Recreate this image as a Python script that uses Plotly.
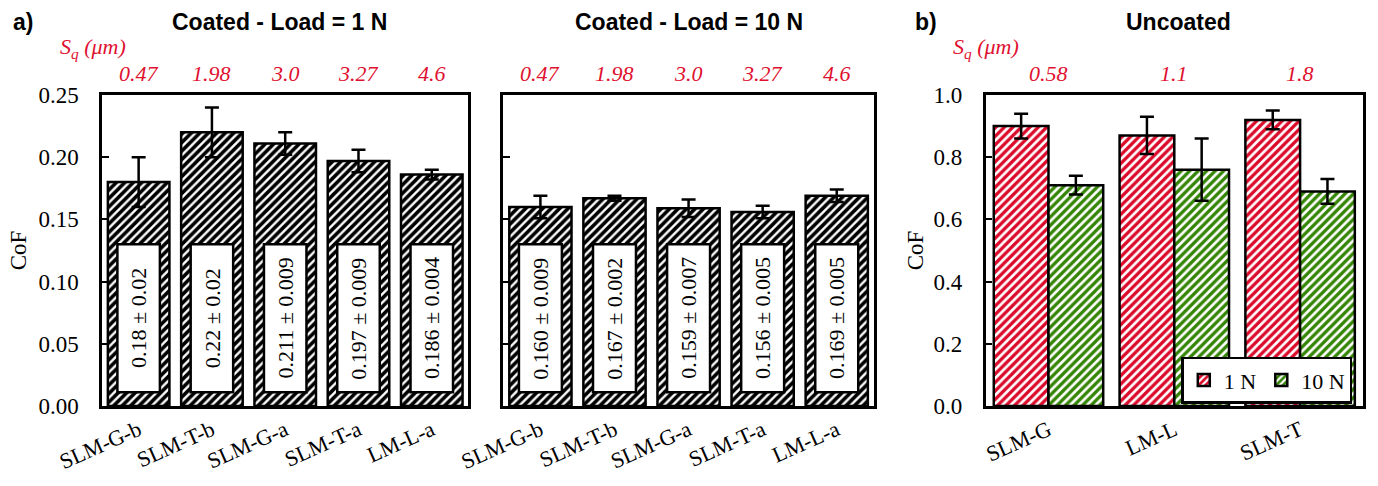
import plotly.graph_objects as go

# ---------------- data ----------------
coated_cats = ["SLM-G-b", "SLM-T-b", "SLM-G-a", "SLM-T-a", "LM-L-a"]
sq_coated = ["0.47", "1.98", "3.0", "3.27", "4.6"]
cof_1N = [0.18, 0.22, 0.211, 0.197, 0.186]
err_1N = [0.02, 0.02, 0.009, 0.009, 0.004]
lbl_1N = ["0.18 ± 0.02", "0.22 ± 0.02", "0.211 ± 0.009", "0.197 ± 0.009", "0.186 ± 0.004"]
cof_10N = [0.160, 0.167, 0.159, 0.156, 0.169]
err_10N = [0.009, 0.002, 0.007, 0.005, 0.005]
lbl_10N = ["0.160 ± 0.009", "0.167 ± 0.002", "0.159 ± 0.007", "0.156 ± 0.005", "0.169 ± 0.005"]

uncoated_cats = ["SLM-G", "LM-L", "SLM-T"]
sq_uncoated = ["0.58", "1.1", "1.8"]
unc_1N = [0.90, 0.87, 0.92]
unc_err_1N = [0.04, 0.06, 0.03]
unc_10N = [0.71, 0.76, 0.69]
unc_err_10N = [0.03, 0.10, 0.04]

# ---------------- styles ----------------
SERIF = "Liberation Serif"
SANS = "Liberation Sans"
RED = "#dc0a2a"
GREEN = "#348504"
SQ_RED = "#e0102f"

W, H = 1378, 486
ML, MR, MT, MB = 102, 13, 95, 75
PW = W - ML - MR
PH = H - MT - MB

def px_x(p):
    return (p - ML) / PW

def px_y(p):
    return (H - MB - p) / PH

dom1 = [0, px_x(469)]
dom2 = [px_x(504), px_x(875)]
dom3 = [px_x(987), 1]

fig = go.Figure()

err_style = dict(type="data", color="black", thickness=2.5, width=7)
pat_black = dict(shape="/", fgcolor="black", bgcolor="white", fgopacity=1, size=6, solidity=0.6)

fig.add_trace(go.Bar(x=coated_cats, y=cof_1N, width=0.84,
                     error_y=dict(array=err_1N, **err_style),
                     marker=dict(color="white", pattern=pat_black, line=dict(color="black", width=2.5)),
                     xaxis="x", yaxis="y", showlegend=False))
fig.add_trace(go.Bar(x=coated_cats, y=cof_10N, width=0.84,
                     error_y=dict(array=err_10N, **err_style),
                     marker=dict(color="white", pattern=pat_black, line=dict(color="black", width=2.5)),
                     xaxis="x2", yaxis="y2", showlegend=False))
fig.add_trace(go.Bar(x=uncoated_cats, y=unc_1N, width=0.435, offset=-0.435, name="1 N",
                     error_y=dict(array=unc_err_1N, **err_style),
                     marker=dict(color="white", pattern=dict(shape="/", fgcolor=RED, bgcolor="white", fgopacity=1,
                                                             size=6, solidity=0.55),
                                 line=dict(color="black", width=2.5)),
                     xaxis="x3", yaxis="y3"))
fig.add_trace(go.Bar(x=uncoated_cats, y=unc_10N, width=0.435, offset=0, name="10 N",
                     error_y=dict(array=unc_err_10N, **err_style),
                     marker=dict(color="white", pattern=dict(shape="/", fgcolor=GREEN, bgcolor="white", fgopacity=1,
                                                             size=6, solidity=0.55),
                                 line=dict(color="black", width=2.5)),
                     xaxis="x3", yaxis="y3"))

shapes = []
annotations = []

# white label boxes with rotated text inside coated bars
for xr, yr, labels in [("x", "y", lbl_1N), ("x2", "y2", lbl_10N)]:
    for i, t in enumerate(labels):
        shapes.append(dict(type="rect", xref=xr, yref=yr, x0=i - 0.29, x1=i + 0.29,
                           y0=0.011, y1=0.13, fillcolor="white",
                           line=dict(color="black", width=2.5), layer="above"))
        annotations.append(dict(xref=xr, yref=yr, x=i, y=0.0705, text=t, textangle=-90,
                                xanchor="center", yanchor="middle",
                                showarrow=False, font=dict(family=SERIF, size=22, color="black")))

# Sq values
for xr, vals in [("x", sq_coated), ("x2", sq_coated), ("x3", sq_uncoated)]:
    for i, v in enumerate(vals):
        annotations.append(dict(xref=xr, yref="paper", x=i, y=px_y(73), text="<i>" + v + "</i>",
                                xanchor="center", yanchor="middle",
                                showarrow=False, font=dict(family=SERIF, size=22, color=SQ_RED)))

for xp in [93, 987]:
    annotations.append(dict(xref="paper", yref="paper", x=px_x(xp), y=px_y(47),
                            text="<i>S<sub>q</sub> (μm)</i>", showarrow=False,
                            xanchor="center", yanchor="middle",
                            font=dict(family=SERIF, size=22, color=SQ_RED)))

# titles and panel letters
for xp, t in [(280, "Coated - Load = 1 N"), (690, "Coated - Load = 10 N"), (1180, "Uncoated")]:
    annotations.append(dict(xref="paper", yref="paper", x=px_x(xp), y=px_y(21), text="<b>" + t + "</b>",
                            xanchor="center", yanchor="middle",
                            showarrow=False, font=dict(family=SANS, size=23, color="black")))
for xp, t in [(23, "a)"), (927, "b)")]:
    annotations.append(dict(xref="paper", yref="paper", x=px_x(xp), y=px_y(21), text="<b>" + t + "</b>",
                            xanchor="center", yanchor="middle",
                            showarrow=False, font=dict(family=SANS, size=23, color="black")))

axis_common = dict(showline=True, linecolor="black", linewidth=2.5, mirror=True,
                   showgrid=False, zeroline=False)
xcommon = dict(axis_common, ticks="", tickangle=-24,
               tickfont=dict(family=SERIF, size=22, color="black"))
ycommon = dict(axis_common, ticks="inside", ticklen=7, tickwidth=2, tickcolor="black",
               ticklabelstandoff=16,
               tickfont=dict(family=SERIF, size=23, color="black"))

fig.update_layout(
    width=W, height=H,
    margin=dict(l=ML, r=MR, t=MT, b=MB),
    paper_bgcolor="white", plot_bgcolor="white",
    barmode="overlay",
    xaxis=dict(xcommon, domain=dom1, anchor="y", range=[-0.5, 4.5]),
    xaxis2=dict(xcommon, domain=dom2, anchor="y2", range=[-0.5, 4.5]),
    xaxis3=dict(xcommon, domain=dom3, anchor="y3", range=[-0.5, 2.5]),
    yaxis=dict(ycommon, domain=[0, 1], anchor="x", range=[0, 0.25], dtick=0.05, tickformat=".2f",
               title=dict(text="CoF", font=dict(family=SERIF, size=23, color="black"), standoff=6)),
    yaxis2=dict(ycommon, domain=[0, 1], anchor="x2", range=[0, 0.25], dtick=0.05, showticklabels=False),
    yaxis3=dict(ycommon, domain=[0, 1], anchor="x3", range=[0, 1.0], dtick=0.2, tickformat=".1f",
                title=dict(text="CoF", font=dict(family=SERIF, size=23, color="black"), standoff=4)),
    shapes=shapes,
    annotations=annotations,
    showlegend=True,
    legend=dict(orientation="h", x=px_x(1183), y=px_y(361), xanchor="left", yanchor="top",
                bgcolor="white", bordercolor="black", borderwidth=2.5,
                font=dict(family=SERIF, size=22, color="black"),
                itemwidth=30),
)

fig.write_html("out.html")
